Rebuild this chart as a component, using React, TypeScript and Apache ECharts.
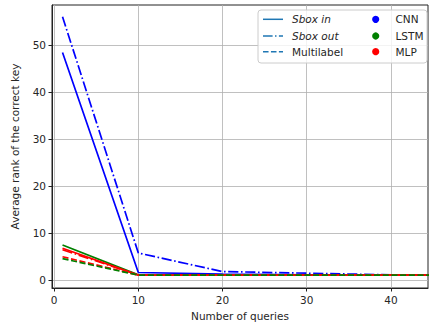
import React, { useEffect, useRef } from "react";
import * as echarts from "echarts";

// Number of queries at which the average key rank was measured
const queries = [1, 10, 20, 30, 40, 50];

// Average rank of the correct key, per model and target
const cnnSboxIn = [48.4, 1.55, 1.2, 1.05, 1.0, 1.0];
const cnnSboxOut = [56.0, 5.7, 1.75, 1.4, 1.05, 1.0];
const mlpSboxIn = [6.7, 1.0, 1.0, 1.0, 1.0, 1.0];
const mlpSboxOut = [6.4, 1.0, 1.0, 1.0, 1.0, 1.0];
const lstmSboxIn = [7.4, 1.05, 1.0, 1.0, 1.0, 1.0];
const mlpMultilabel = [4.9, 1.0, 1.0, 1.0, 1.0, 1.0];
const lstmMultilabel = [4.5, 1.0, 1.0, 1.0, 1.0, 1.0];

const xTicks = [0, 10, 20, 30, 40];
const yTicks = [0, 10, 20, 30, 40, 50];

const BLUE = "#0000ff";
const GREEN = "#008000";
const RED = "#ff0000";
const HANDLE = "#1f77b4";
const LW = 1.7;
const DASHDOT = [10.2, 2.6, 1.6, 2.6];
const DASHED = [6.1, 2.6];
const FONT = "DejaVu Sans";
const TEXT = "#262626";

const pairs = (ys: number[]) => queries.map((q, i) => [q, ys[i]]);

const lineSeries = (name: string, ys: number[], color: string, dash: any) => ({
  name,
  type: "line",
  data: pairs(ys),
  showSymbol: false,
  symbol: "none",
  clip: true,
  lineStyle: { color, width: LW, type: dash },
  z: 3,
});

export default function App() {
  const ref = useRef<HTMLDivElement>(null);

  useEffect(() => {
    if (!ref.current) return;
    const chart = echarts.init(ref.current, null, { renderer: "svg" });

    const legendRows = [
      { label: "Sbox in", italic: true, dash: "solid" as any, model: "CNN", color: BLUE },
      { label: "Sbox out", italic: true, dash: [9.6, 2.4, 1.5, 2.4], model: "LSTM", color: GREEN },
      { label: "Multilabel", italic: false, dash: [5.55, 2.4], model: "MLP", color: RED },
    ];
    const rowY = [19.3, 36, 51.7];

    const legendGraphics: any[] = [
      {
        type: "rect",
        shape: { x: 258, y: 10, width: 169, height: 53, r: 3 },
        style: { fill: "rgba(255,255,255,0.8)", stroke: "#cccccc", lineWidth: 1 },
        z: 10,
      },
    ];
    legendRows.forEach((r, i) => {
      const y = rowY[i];
      legendGraphics.push(
        {
          type: "line",
          shape: { x1: 263, y1: y, x2: 283, y2: y },
          style: { stroke: HANDLE, lineWidth: 1.5, lineDash: r.dash === "solid" ? null : r.dash },
          z: 11,
        },
        {
          type: "text",
          x: 292,
          y,
          style: {
            text: r.label,
            font: `${r.italic ? "italic " : ""}10.5px '${FONT}'`,
            fill: TEXT,
            verticalAlign: "middle",
          },
          z: 11,
        },
        {
          type: "circle",
          shape: { cx: 375.7, cy: y, r: 3.6 },
          style: { fill: r.color },
          z: 11,
        },
        {
          type: "text",
          x: 395.5,
          y,
          style: {
            text: r.model,
            font: `10.5px '${FONT}'`,
            fill: TEXT,
            verticalAlign: "middle",
          },
          z: 11,
        }
      );
    });

    chart.setOption({
      animation: false,
      textStyle: { fontFamily: FONT },
      grid: {
        left: 52,
        right: 1,
        top: 5,
        bottom: 39,
        show: true,
        borderColor: "#222",
        borderWidth: 1,
        backgroundColor: "transparent",
      },
      xAxis: {
        type: "value",
        min: -0.25,
        max: 44.4,
        interval: 10,
        name: "Number of queries",
        nameLocation: "middle",
        nameGap: 22,
        nameTextStyle: { color: TEXT, fontSize: 10.5, fontFamily: FONT },
        axisLine: { show: true, onZero: false, lineStyle: { color: "#222", width: 1 } },
        axisTick: { show: true, length: 3.5, lineStyle: { color: "#222" }, customValues: xTicks },
        axisLabel: {
          color: TEXT,
          fontSize: 10.5,
          fontFamily: FONT,
          margin: 6,
          customValues: xTicks,
          formatter: (v: number) => (xTicks.includes(v) ? String(v) : ""),
        },
        splitLine: { show: true, lineStyle: { color: "#b0b0b0", width: 0.8 } },
      },
      yAxis: {
        type: "value",
        min: -1.75,
        max: 58.5,
        interval: 10,
        name: "Average rank of the correct key",
        nameLocation: "middle",
        nameGap: 32,
        nameTextStyle: { color: TEXT, fontSize: 10.5, fontFamily: FONT },
        axisLine: { show: true, onZero: false, lineStyle: { color: "#222", width: 1 } },
        axisTick: { show: true, length: 3.5, lineStyle: { color: "#222" }, customValues: yTicks },
        axisLabel: {
          color: TEXT,
          fontSize: 10.5,
          fontFamily: FONT,
          margin: 6,
          customValues: yTicks,
          formatter: (v: number) => (yTicks.includes(v) ? String(v) : ""),
        },
        splitLine: { show: true, lineStyle: { color: "#b0b0b0", width: 0.8 } },
      },
      series: [
        lineSeries("CNN Sbox in", cnnSboxIn, BLUE, "solid"),
        lineSeries("CNN Sbox out", cnnSboxOut, BLUE, DASHDOT),
        lineSeries("LSTM Sbox in", lstmSboxIn, GREEN, "solid"),
        lineSeries("MLP Sbox in", mlpSboxIn, RED, "solid"),
        lineSeries("MLP Sbox out", mlpSboxOut, RED, DASHDOT),
        lineSeries("MLP Multilabel", mlpMultilabel, RED, DASHED),
        lineSeries("LSTM Multilabel", lstmMultilabel, GREEN, DASHED),
      ],
      graphic: legendGraphics,
    });

    return () => chart.dispose();
  }, []);

  return <div ref={ref} style={{ width: 429, height: 327, position: "absolute", left: 0, top: 0 }} />;
}
